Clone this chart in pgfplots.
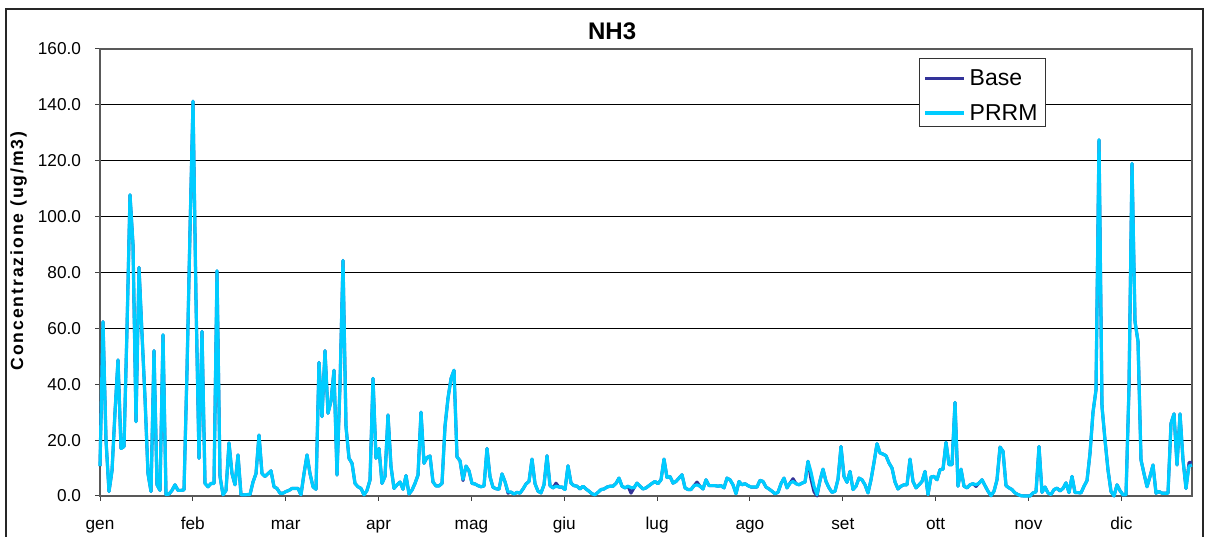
\documentclass[border=0pt]{standalone}
\usepackage{fontspec}
\setmainfont{Liberation Sans}
\usepackage{pgfplots}
\usepackage{pgfplotstable}
\pgfplotsset{compat=1.18}
\definecolor{baseblue}{RGB}{51,51,153}
\definecolor{prrmcyan}{RGB}{0,204,255}
\pgfplotstableread{
d base prrm
1 10.7 10.7
2 62.4 62.4
3 20 20
4 1.6 1.6
5 9 9
6 30 30
7 48.7 48.7
8 17 17
9 17.7 17.7
10 60 60
11 107.8 107.8
12 90 90
13 26.6 26.6
14 81.8 81.8
15 58 58
16 35 35
17 8 8
18 1.6 1.6
19 52 52
20 4 4
21 2 2
22 57.7 57.7
23 0.5 0.5
24 0.7 0.7
25 2 2
26 4 4
27 2 2
28 2 2
29 2.2 2.2
30 45 45
31 95 95
32 141.3 141.3
33 70 70
34 13.5 13.5
35 58.9 58.9
36 4.5 4.5
37 3.3 3.3
38 4.5 4.5
39 4.5 4.5
40 80.6 80.6
41 7 7
42 0.4 0.4
43 2 2
44 19 19
45 8 8
46 4 4
47 14.7 14.7
48 0.4 0.4
49 0.4 0.4
50 0.5 0.5
51 0.5 0.5
52 5 5
53 8 8
54 21.8 21.8
55 8 8
56 7 7
57 8 8
58 9 9
59 3.3 3.3
60 2.7 2.7
61 1 1
62 1 1
63 1.6 1.6
64 2 2
65 2.7 2.7
66 2.7 2.7
67 2.7 2.7
68 0.4 0.4
69 8 8
70 14.7 14.7
71 8 8
72 3.3 3.3
73 2.4 2.4
74 47.8 47.8
75 28.4 28.4
76 52 52
77 29.6 29.6
78 34 34
79 45 45
80 7.5 7.5
81 40 40
82 84.3 84.3
83 24.8 24.8
84 13.5 13.5
85 11.7 11.7
86 4.5 4.5
87 3.3 3.3
88 2.7 2.7
89 0.4 0.4
90 2 2
91 5.7 5.7
92 42.1 42.1
93 13.5 13.5
94 17 17
95 4.5 4.5
96 7 7
97 29 29
98 10.5 10.5
99 2.7 2.7
100 4 4
101 5 5
102 2.4 2.4
103 7.3 7.3
104 0.7 0.7
105 2.1 2.1
106 4.5 4.5
107 7.5 7.5
108 30 30
109 11.7 11.7
110 13.8 13.8
111 14.3 14.3
112 5 5
113 3.6 3.6
114 3.6 3.6
115 4.5 4.5
116 25 25
117 35 35
118 42 42
119 45 45
120 14 14
121 12.6 12.6
122 5.5 6
123 10.7 10.7
124 9 9
125 4.5 4.5
126 4.3 4.3
127 3.7 3.7
128 3.3 3.3
129 3.6 3.6
130 17 17
131 6.9 6.9
132 3.1 3.1
133 2.6 2.6
134 2.4 2.4
135 7.9 7.9
136 5.1 5.1
137 1.0 1.5
138 1.4 1.4
139 0.7 0.7
140 1.3 1.3
141 1.0 1.0
142 2.5 2.5
143 4.3 4.3
144 5.2 5.2
145 13.2 13.2
146 4.4 4.4
147 1.7 1.7
148 1.1 1.1
149 4 4
150 14.4 14.4
151 3.7 3.7
152 2.9 2.9
153 4.6 3.5
154 3.2 3.2
155 3.2 3.2
156 2.3 2.3
157 10.8 10.8
158 4.6 4.6
159 3.7 3.7
160 3.5 3.5
161 2.5 2.5
162 3.5 3.5
163 2.5 2.5
164 1.7 1.7
165 0.8 0.8
166 0.4 0.4
167 1.3 1.3
168 2.3 2.3
169 2.5 2.5
170 3.2 3.2
171 3.5 3.5
172 3.5 3.5
173 4.5 4.5
174 6.4 6.4
175 3.5 3.5
176 2.9 2.9
177 3.5 3.5
178 1.0 3.0
179 2.9 2.9
180 4.6 4.6
181 3.5 3.5
182 2.5 2.5
183 2.9 2.9
184 3.7 3.7
185 4.5 4.5
186 5.2 5.2
187 4.4 4.4
188 5.8 5.8
189 13.2 13.2
190 6.6 6.6
191 7 7
192 4.6 4.6
193 5.2 5.2
194 6.4 6.4
195 7.6 7.6
196 2.9 2.9
197 2.3 2.3
198 2.3 2.3
199 3.7 3.7
200 5.0 4.0
201 3.5 3.5
202 2.5 2.5
203 5.8 5.8
204 3.7 3.7
205 3.7 3.7
206 3.7 3.7
207 3.5 3.5
208 3.7 3.7
209 2.9 2.9
210 6.4 6.4
211 5.8 5.8
212 4 4
213 0.8 0.8
214 5.2 5.2
215 4 4
216 4.4 4.4
217 3.7 3.7
218 3.2 3.2
219 3.2 3.2
220 3.2 3.2
221 5.6 5.6
222 5.2 5.2
223 3.2 3.2
224 2.5 2.5
225 1.7 1.7
226 0.8 0.8
227 1.3 1.3
228 4.4 4.4
229 6.4 6.4
230 2.9 2.9
231 4.6 4.6
232 6.2 5.2
233 4.4 4.4
234 4 4
235 4.6 4.6
236 5 5
237 12.4 12.4
238 6 8.5
239 1.5 3.5
240 0 0.5
241 5.5 5.5
242 9.6 9.6
243 5.2 5.2
244 2.9 2.9
245 1.3 1.3
246 1.7 1.7
247 6 6
248 17.7 17.7
249 7 7
250 4.9 4.9
251 8.8 8.8
252 2.3 2.3
253 3.5 3.5
254 6.4 6.4
255 5.8 5.8
256 4 4
257 1.1 1.1
258 5.8 5.8
259 12 12
260 18.7 18.7
261 15.4 15.4
262 15 15
263 14.4 14.4
264 11.8 11.8
265 10 10
266 5 5
267 2.5 2.5
268 3.5 3.5
269 4 4
270 4 4
271 13.2 13.2
272 5.2 5.2
273 2.9 2.9
274 4 4
275 5.2 5.2
276 8.8 8.8
277 0.5 0.5
278 6.8 6.8
279 7 7
280 5.8 5.8
281 9.4 9.4
282 9.6 9.6
283 19.2 19.2
284 11.2 11.2
285 11.2 11.2
286 33.5 33.5
287 3.5 3.5
288 9.6 9.6
289 3.5 3.5
290 2.9 2.9
291 4 4
292 4.4 4.4
293 3.4 4
294 4.6 4.6
295 5.8 5.8
296 3.7 3.7
297 1.7 1.7
298 0.1 0.1
299 1.7 1.7
300 5.8 5.8
301 17.5 17.5
302 16 16
303 3.7 3.7
304 2.9 2.9
305 2.3 2.3
306 1.1 1.1
307 0.5 0.5
308 0.1 0.1
309 0 0
310 0 0
311 0 0
312 1.1 1.1
313 1.5 1.5
314 17.7 17.7
315 1.3 1.3
316 3.2 3.2
317 1.1 1.1
318 0.5 0.5
319 2.3 2.3
320 2.8 2.8
321 1.8 1.8
322 2.7 2.7
323 4.7 4.7
324 1.2 1.2
325 7 7
326 1.2 1.2
327 1.2 1.2
328 1.1 1.1
329 3.5 3.5
330 5.5 5.5
331 15.3 15.3
332 30 30
333 38 38
334 127.5 127.5
335 32 32
336 20 20
337 9.3 9.3
338 1.6 1.6
339 0 0
340 4 4
341 1.9 1.9
342 0.4 0.4
343 0.4 0.4
344 39 39
345 119 119
346 62.4 62.4
347 55.3 55.3
348 12.9 12.9
349 8 8
350 3.3 3.3
351 7 7
352 11.1 11.1
353 1 1
354 1.6 1.6
355 1 1
356 1 1
357 1 1
358 26 26
359 29.4 29.4
360 11.1 11.1
361 29.4 29.4
362 12.9 12.9
363 2.7 2.7
364 12 10.7
365 12 11.1
}\nhdata

\begin{document}
\begin{tikzpicture}
\begin{axis}[
  width=546pt, height=223.5pt, scale only axis,
  clip=false,
  xmin=1, xmax=365, ymin=0, ymax=160,
  xtick={1,31.95,62.9,93.85,124.8,155.75,186.7,217.65,248.6,279.55,310.5,341.45},
  xticklabels={gen,feb,mar,apr,mag,giu,lug,ago,set,ott,nov,dic},
  ytick={0,20,...,160},
  xtick pos=bottom, ytick pos=left,
  ymajorgrids,
  grid style={black, line width=0.5pt},
  tick align=outside,
  major tick length=2.5pt,
  tick style={black!75, line width=0.5pt},
  axis line style={black!65, line width=0.6pt},
  /pgf/number format/assume math mode=true,
  yticklabel style={xshift=-3.5pt, /pgf/number format/fixed, /pgf/number format/fixed zerofill, /pgf/number format/precision=1},
  xticklabel style={yshift=-3.6pt, text height=0.72em, text depth=0.21em},
  ticklabel style={font=\fontsize{8.6}{10}\selectfont},
  legend style={at={(axis description cs:0.750,0.980)}, anchor=north west,
    draw=black!80, line width=0.5pt, fill=white,
    font=\fontsize{11.5}{13}\selectfont,
    inner xsep=2pt, inner ysep=3pt, row sep=6.7pt,
    nodes={inner ysep=0pt, text height=10.7pt, text depth=0pt}},
  legend cell align=left,
  legend image code/.code={\path[draw=none, fill=none] (0pt,1.5pt) -- (19.5pt,1.5pt); \draw[#1, line width=1.6pt] (0pt,-1.5pt) -- (19.5pt,-1.5pt);},
]
\addplot[baseblue, line width=1.5pt, line join=round] table[x=d, y=base]{\nhdata};
\addplot[prrmcyan, line width=1.6pt, line join=round] table[x=d, y=prrm]{\nhdata};
\legend{Base, PRRM}
\node[font=\bfseries\fontsize{12}{14}\selectfont] at (axis description cs:0.469,1.040) {NH3};
\node[rotate=90, font=\bfseries\fontsize{8.8}{10}\selectfont\addfontfeature{LetterSpace=11}] at (axis description cs:-0.0745,0.548) {Concentrazione (ug/m3)};
\coordinate (bbBL) at (axis description cs:-0.09158,-0.09172);
\coordinate (bbTR) at (axis description cs:1.01282,1.10962);
\coordinate (frA) at (axis description cs:-0.08608,-0.2);
\coordinate (frB) at (axis description cs:-0.08608,1.08949);
\coordinate (frC) at (axis description cs:1.01007,1.08949);
\coordinate (frD) at (axis description cs:1.01007,-0.2);
\end{axis}
\pgfresetboundingbox
\useasboundingbox (bbBL) rectangle (bbTR);
\draw[black!85, line width=0.8pt] (frA) -- (frB) -- (frC) -- (frD);
\end{tikzpicture}
\end{document}
